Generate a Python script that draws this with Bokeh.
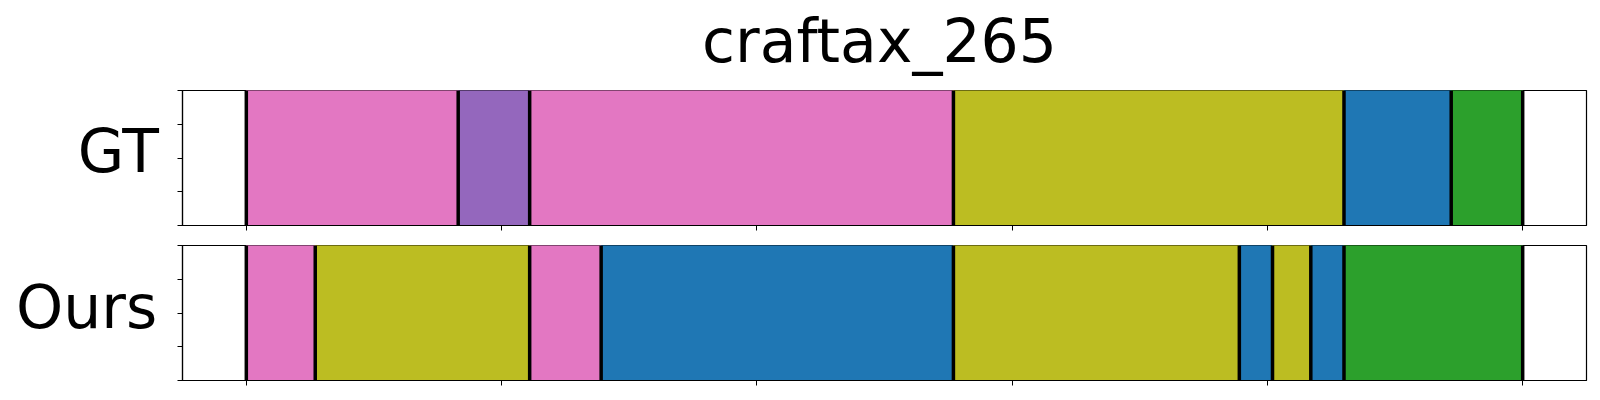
from bokeh.plotting import figure
from bokeh.layouts import column, row
from bokeh.models import ColumnDataSource, Range1d, FixedTicker, Label
from bokeh.embed import file_html
from bokeh.resources import INLINE

title_text = "craftax_265"
row_names = ["GT", "Ours"]

# segment boundaries (frame index) and class ids (tab10 palette index)
gt_bounds = [0, 83, 111, 277, 430, 472, 500]
gt_classes = [6, 4, 6, 8, 0, 2]
ours_bounds = [0, 27, 111, 139, 277, 389, 402, 417, 430, 500]
ours_classes = [6, 8, 6, 0, 8, 0, 8, 0, 2]

x_ticks = [0, 100, 200, 300, 400, 500]
y_ticks = [0, 0.25, 0.5, 0.75, 1.0]

tab10 = ["#1f77b4", "#ff7f0e", "#2ca02c", "#d62728", "#9467bd",
         "#8c564b", "#e377c2", "#7f7f7f", "#bcbd22", "#17becf"]
tab10_edge = ["#1c6ba2", "#e6720d", "#289028", "#c12324", "#855daa",
              "#7e4d44", "#cc6baf", "#727272", "#a9aa1f", "#15abba"]

FONT = "DejaVu Sans"
FW, FH = 1404, 135
LABW, RIGHT, TICKW = 176, 12, 6
TOTAL_W = LABW + TICKW + FW + RIGHT


def blank_fig(w, h):
    f = figure(width=w, height=h, x_range=Range1d(0, w), y_range=Range1d(0, h),
               x_axis_type=None, y_axis_type=None,
               min_border=0, output_backend="svg", toolbar_location=None)
    f.outline_line_color = None
    f.xgrid.visible = False
    f.ygrid.visible = False
    return f


def text_label(x, y, txt, align):
    return Label(x=x, y=y, text=txt, text_align=align, text_baseline="alphabetic",
                 text_font=FONT, text_font_size="60px", text_color="black")


def make_panel(bounds, classes, top_border, bottom_border):
    p = figure(frame_width=FW, frame_height=FH,
               min_border_left=TICKW, min_border_right=RIGHT,
               min_border_top=top_border, min_border_bottom=bottom_border,
               x_range=Range1d(-25, 525), y_range=Range1d(0, 1),
               output_backend="svg", toolbar_location=None)
    src = ColumnDataSource(dict(
        left=bounds[:-1], right=bounds[1:],
        fill=[tab10[c] for c in classes],
        edge=[tab10_edge[c] for c in classes]))
    p.quad(left="left", right="right", bottom=0, top=1, source=src,
           fill_color="fill", line_color="edge", line_width=1)
    p.segment(x0=bounds, x1=bounds, y0=[0] * len(bounds), y1=[1] * len(bounds),
              line_color="black", line_width=3.5)
    p.xgrid.visible = False
    p.ygrid.visible = False
    p.outline_line_color = "black"
    p.outline_line_width = 1.2
    for ax, ticks in ((p.xaxis[0], x_ticks), (p.yaxis[0], y_ticks)):
        ax.ticker = FixedTicker(ticks=ticks)
        ax.major_label_overrides = {t: "" for t in ticks}
        ax.major_label_standoff = 0
        ax.minor_tick_line_color = None
        ax.major_tick_line_color = "black"
        ax.major_tick_line_width = 1
        ax.major_tick_out = 5
        ax.major_tick_in = 0
        ax.axis_line_color = "black"
        ax.axis_line_width = 1.2
    return p


# title strip
tfig = blank_fig(TOTAL_W, 90)
tfig.add_layout(text_label(879, 50, title_text, "center"))

# GT row
p1 = make_panel(gt_bounds, gt_classes, 0, 10)
l1 = blank_fig(LABW, FH + 10)
l1.add_layout(text_label(158.3, 80.5, row_names[0], "right"))

# Ours row
p2 = make_panel(ours_bounds, ours_classes, 10, 12)
l2 = blank_fig(LABW, FH + 22)
l2.add_layout(text_label(156.7, 85, row_names[1], "right"))

layout = column(tfig, row(l1, p1, spacing=0), row(l2, p2, spacing=0), spacing=0)
open("out.html", "w").write(file_html(layout, INLINE))
